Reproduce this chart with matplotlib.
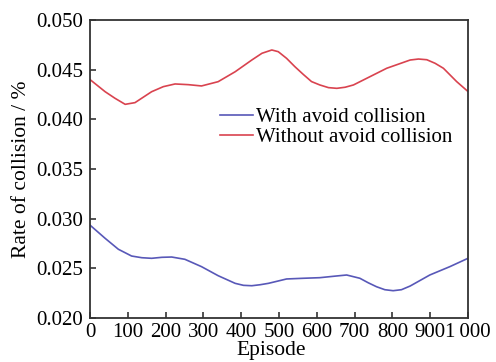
import matplotlib
matplotlib.use("Agg")
import matplotlib.pyplot as plt

# values
ep_red = [0, 40, 66, 93, 119, 163, 194, 225, 260, 295, 339, 384, 428, 455, 481, 498, 520,
          542, 564, 586, 608, 631, 653, 675, 697, 741, 785, 847, 869, 891, 913, 935, 970, 1000]
rate_red = [0.0440, 0.04278, 0.04212, 0.04151, 0.04168, 0.04278, 0.04329, 0.04356, 0.04349,
            0.04336, 0.04379, 0.04479, 0.04597, 0.04665, 0.04698, 0.04681, 0.04614, 0.04530,
            0.04453, 0.04380, 0.04346, 0.04319, 0.04312, 0.04323, 0.04346, 0.04430, 0.04514,
            0.04597, 0.04607, 0.04600, 0.04564, 0.04514, 0.04380, 0.04280]

ep_blue = [0, 40, 75, 110, 137, 163, 190, 216, 251, 295, 339, 384, 406, 428, 450, 472, 520,
           564, 608, 652, 679, 714, 736, 758, 780, 802, 824, 847, 899, 952, 1000]
rate_blue = [0.02935, 0.02802, 0.02692, 0.02624, 0.02607, 0.02601, 0.02611, 0.02614, 0.02591,
             0.02517, 0.02426, 0.02349, 0.02329, 0.02325, 0.02335, 0.02349, 0.02393, 0.02400,
             0.02406, 0.02423, 0.02433, 0.02400, 0.02355, 0.02315, 0.02285, 0.02275, 0.02285,
             0.02322, 0.02433, 0.02517, 0.02601]

xticks = [0, 100, 200, 300, 400, 500, 600, 700, 800, 900, 1000]
xticklabels = ["0", "100", "200", "300", "400", "500", "600", "700", "800", "900", "1\u2009000"]
yticks = [0.020, 0.025, 0.030, 0.035, 0.040, 0.045, 0.050]

plt.rcParams['font.family'] = ['Liberation Serif', 'DejaVu Serif']
plt.rcParams['font.size'] = 15

fig = plt.figure(figsize=(4.96, 3.62), dpi=100)
ax = fig.add_axes([0.1815, 0.1215, 0.762, 0.8233])

ax.plot(ep_blue, rate_blue, color="#5858b8", lw=1.2, label="With avoid collision")
ax.plot(ep_red, rate_red, color="#d9434f", lw=1.2, label="Without avoid collision")

ax.set_xlim(0, 1000)
ax.set_ylim(0.020, 0.050)
ax.set_xticks(xticks)
ax.set_xticklabels(xticklabels)
ax.set_yticks(yticks)
ax.set_yticklabels(["%.3f" % v for v in yticks])
ax.tick_params(direction="in", length=4, width=1.2, color="#333333",
               labelsize=15, top=False, right=False)
ax.tick_params(axis="x", pad=3.5)
ax.tick_params(axis="y", pad=5)
for s in ax.spines.values():
    s.set_linewidth(1.3)
    s.set_color("#333333")

ax.set_xlabel("Episode", fontsize=15.5)
ax.xaxis.set_label_coords(0.48, -0.078, transform=ax.transAxes)
ax.xaxis.label.set_va("top")
ax.set_ylabel("Rate of collision / %", fontsize=15.5, labelpad=3.5)

ax.legend(loc="upper left", bbox_to_anchor=(0.344, 0.705), frameon=False,
          borderpad=0, borderaxespad=0, handlelength=1.6, handletextpad=0.15,
          labelspacing=0.0, fontsize=15)

fig.savefig("out.png", dpi=100)
